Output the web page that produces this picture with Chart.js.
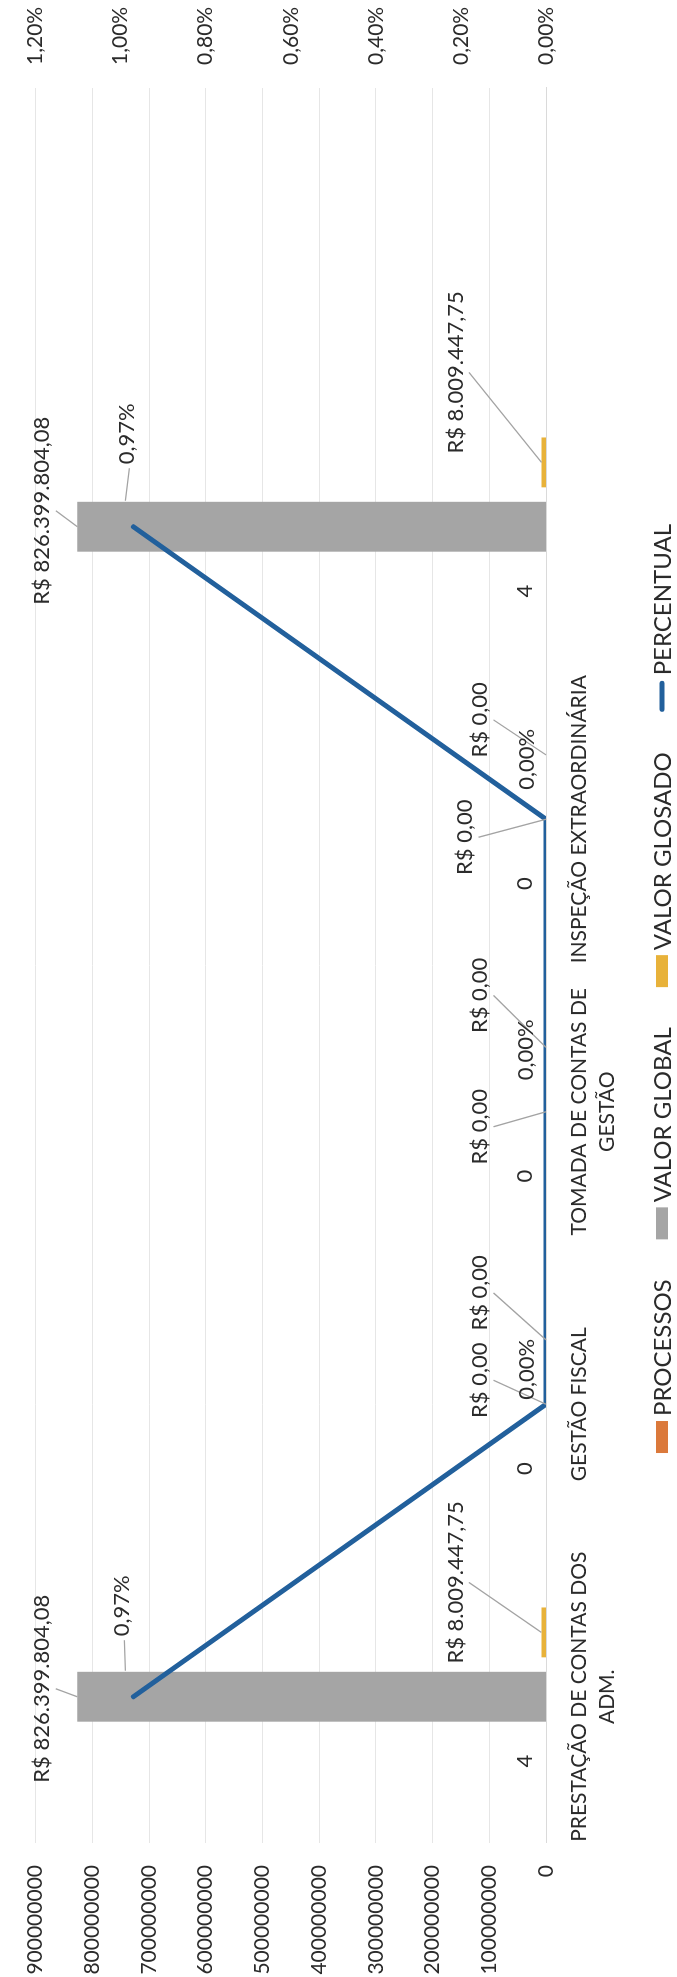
<!DOCTYPE html>
<html lang="pt-BR">
<head>
<meta charset="utf-8">
<title>Processos e valores por tipo</title>
<script src="https://cdn.jsdelivr.net/npm/chart.js@4.4.1/dist/chart.umd.min.js"></script>
<style>
  html, body { margin: 0; padding: 0; background: #ffffff; }
  body { width: 677px; height: 1977px; overflow: hidden; position: relative; }
  /* the chart is laid out landscape and turned a quarter turn to fit the portrait page */
  #frame {
    position: absolute; left: 0; top: 0;
    width: 1977px; height: 677px;
    transform-origin: 0 0;
    transform: translateY(1977px) rotate(-90deg);
  }
  canvas { display: block; }
</style>
</head>
<body>
<div id="frame"><canvas id="chart" width="1977" height="677"></canvas></div>
<script>
// ---- data ----
const categories = [
  ["PRESTAÇÃO DE CONTAS DOS", "ADM."],
  "GESTÃO FISCAL",
  ["TOMADA DE CONTAS DE", "GESTÃO"],
  "INSPEÇÃO EXTRAORDINÁRIA",
  "",
  ""
];
const processos    = [4, 0, 0, 0, 4, null];
const valorGlobal  = [826399804.08, 0, 0, 0, 826399804.08, null];
const valorGlosado = [8009447.75, 0, 0, 0, 8009447.75, null];
const percentual   = [0.97, 0, 0, 0, 0.97, null];

const valorTicks   = [0, 100000000, 200000000, 300000000, 400000000, 500000000, 600000000, 700000000, 800000000, 900000000];
const percentTicks = [0, 0.2, 0.4, 0.6, 0.8, 1.0, 1.2];

// ---- styling ----
const FONT = 'Lato';
const TEXT = '#2b2b2b';
const COLORS = {
  processos: '#db793b',
  global: '#a5a5a5',
  glosado: '#e8b23a',
  percentual: '#22609c'
};
const AXIS_SIZE = 21, CATEGORY_SIZE = 21, LABEL_SIZE = 22, LEGEND_SIZE = 24;

// where each value label sits relative to its bar end / point, in px
const labelOffsets = [
  [[0, -21], [0, -21], [0, -21], [0, -21], [0, -21]],          // processos
  [[8, -35], [24, -66], [-15, -66], [-18, -81], [16, -35]],    // valor global
  [[50, -86], [47, -66], [52, -66], [35, -66], [90, -86]],     // valor glosado
  [[91, -12], [35, -19], [62, -20], [60, -19], [93, -7]]       // percentual
];

function brl(v) {
  const parts = v.toFixed(2).split('.');
  return 'R$ ' + parts[0].replace(/\B(?=(\d{3})+(?!\d))/g, '.') + ',' + parts[1];
}
function pct(v) {
  return v.toFixed(2).replace('.', ',') + '%';
}
const formatters = [v => String(v), brl, brl, pct];

// value labels with thin leader lines
const valueLabels = {
  id: 'valueLabels',
  afterDatasetsDraw(chart) {
    const ctx = chart.ctx;
    ctx.save();
    ctx.font = LABEL_SIZE + 'px ' + FONT;
    ctx.textAlign = 'center';
    ctx.textBaseline = 'middle';
    chart.data.datasets.forEach((ds, di) => {
      const meta = chart.getDatasetMeta(di);
      meta.data.forEach((el, i) => {
        const v = ds.data[i];
        if (v === null || v === undefined) return;
        const [dx, dy] = labelOffsets[di][i];
        const tx = el.x + dx;
        const ty = el.y + dy;
        const text = formatters[di](v);
        const w = ctx.measureText(text).width;
        const h = 25;
        let sx, sy, ex, ey, leader = false;
        if (di === 1 || di === 2) {
          sx = tx; sy = ty + h / 2 + 1;
          ex = el.x; ey = el.y;
          leader = Math.hypot(ex - sx, ey - sy) > 10;
        } else if (di === 3 && v > 0) {
          sx = tx - w / 2 - 4; sy = ty + 3;
          ex = el.x + 26; ey = el.y - 8;
          leader = true;
        }
        if (leader) {
          ctx.beginPath();
          ctx.moveTo(sx, sy);
          ctx.lineTo(ex, ey);
          ctx.strokeStyle = '#a3a3a3';
          ctx.lineWidth = 1.3;
          ctx.stroke();
        }
        ctx.fillStyle = TEXT;
        ctx.fillText(text, tx, ty);
      });
    });
    ctx.restore();
  }
};

// legend row along the bottom edge
const legendRow = {
  id: 'legendRow',
  afterDraw(chart) {
    const ctx = chart.ctx;
    ctx.save();
    ctx.font = LEGEND_SIZE + 'px ' + FONT;
    ctx.textBaseline = 'middle';
    ctx.textAlign = 'left';
    const items = chart.data.datasets.map(ds => ({
      label: ds.label,
      line: ds.type === 'line',
      color: ds.type === 'line' ? ds.borderColor : ds.backgroundColor
    }));
    const sw = 32, gap = 5, spacing = 40, y = 662;
    const widths = items.map(it => sw + gap + ctx.measureText(it.label).width);
    const total = widths.reduce((a, b) => a + b, 0) + spacing * (items.length - 1);
    let x = (chart.width - total) / 2;
    items.forEach((it, k) => {
      if (it.line) {
        ctx.beginPath();
        ctx.moveTo(x + 3, y);
        ctx.lineTo(x + sw - 3, y);
        ctx.strokeStyle = it.color;
        ctx.lineWidth = 5;
        ctx.lineCap = 'round';
        ctx.stroke();
      } else {
        ctx.fillStyle = it.color;
        ctx.fillRect(x, y - 6, sw, 12);
      }
      ctx.fillStyle = TEXT;
      ctx.fillText(it.label, x + sw + gap, y + 1);
      x += widths[k] + spacing;
    });
    ctx.restore();
  }
};

Chart.defaults.font.family = FONT;
Chart.defaults.font.size = AXIS_SIZE;
Chart.defaults.color = TEXT;

new Chart(document.getElementById('chart'), {
  type: 'bar',
  data: {
    labels: categories,
    datasets: [
      { label: 'PROCESSOS', data: processos, backgroundColor: COLORS.processos, yAxisID: 'y', order: 1, inflateAmount: 0 },
      { label: 'VALOR GLOBAL', data: valorGlobal, backgroundColor: COLORS.global, yAxisID: 'y', order: 1 },
      { label: 'VALOR GLOSADO', data: valorGlosado, backgroundColor: COLORS.glosado, yAxisID: 'y', order: 1 },
      {
        label: 'PERCENTUAL', type: 'line', data: percentual, yAxisID: 'y1', order: 0,
        borderColor: COLORS.percentual, backgroundColor: COLORS.percentual,
        borderWidth: 5, pointRadius: 0, tension: 0,
        borderCapStyle: 'round', borderJoinStyle: 'round'
      }
    ]
  },
  options: {
    responsive: false,
    devicePixelRatio: 1,
    animation: false,
    layout: { padding: { top: 22, left: 0, right: 0, bottom: 0 } },
    datasets: {
      bar: { categoryPercentage: 0.66, barPercentage: 0.775 }
    },
    plugins: {
      legend: { display: false },
      tooltip: { enabled: false }
    },
    scales: {
      x: {
        type: 'category',
        offset: true,
        grid: { display: false, drawTicks: false },
        border: { display: true, color: '#dadada', width: 1 },
        ticks: {
          autoSkip: false, maxRotation: 0, minRotation: 0, padding: 20,
          font: { size: CATEGORY_SIZE, lineHeight: 1.3 }, color: TEXT
        },
        afterFit(scale) { scale.height = 131; }
      },
      y: {
        position: 'left',
        min: 0, max: 900000000,
        grid: {
          color: '#e6e6e6',
          // the zero line is the category axis itself
          lineWidth: c => (c.tick && c.tick.value === 0 ? 0 : 1),
          drawTicks: false
        },
        border: { display: false },
        afterBuildTicks(scale) { scale.ticks = valorTicks.map(v => ({ value: v })); },
        ticks: { padding: 22, color: TEXT, callback: v => String(v) },
        afterFit(scale) { scale.width = 134; }
      },
      y1: {
        position: 'right',
        min: 0, max: 1.2,
        grid: { drawOnChartArea: false, drawTicks: false },
        border: { display: false },
        afterBuildTicks(scale) { scale.ticks = percentTicks.map(v => ({ value: v })); },
        ticks: { padding: 23, color: TEXT, callback: v => pct(v) },
        afterFit(scale) { scale.width = 88; }
      }
    }
  },
  plugins: [valueLabels, legendRow]
});
</script>
</body>
</html>
